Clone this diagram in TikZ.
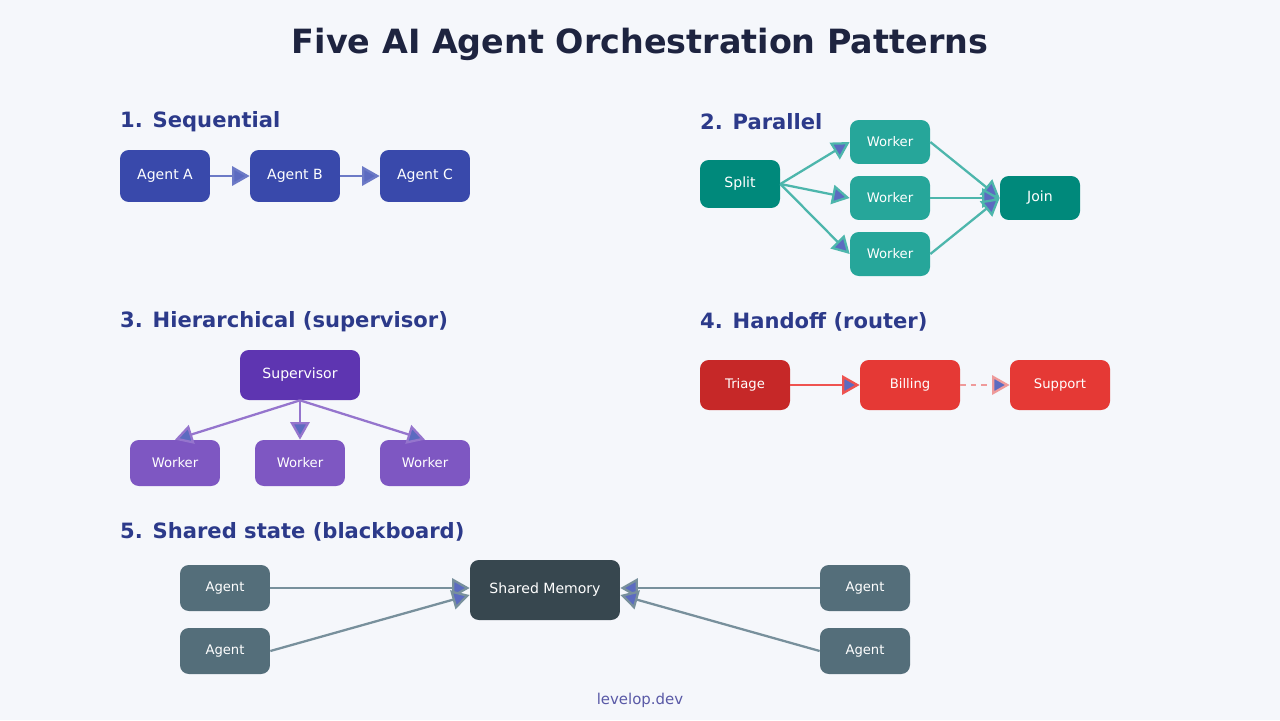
\documentclass[tikz,border=0pt]{standalone}
\usepackage{fontspec}
\setmainfont{DejaVu Sans}
\usetikzlibrary{arrows.meta,positioning}
\definecolor{bgc}{HTML}{F5F7FB}
\definecolor{titlec}{HTML}{1E2440}
\definecolor{headc}{HTML}{2C3A8A}
\definecolor{tipc}{HTML}{5C6BC0}
\tikzset{
    box/.style={rounded corners=5pt, text=white, inner sep=0pt, font=\fontsize{8}{9}\selectfont},
    head/.style={anchor=west, text=headc, font=\bfseries\fontsize{12}{14}\selectfont},
    link/.style={line width=1.3pt, -{Triangle[length=10pt,width=11pt,fill=tipc]}, shorten >=0pt},
}
\begin{document}
\begin{tikzpicture}[x=0.02cm, y=-0.02cm]
	\fill[bgc] (0,0) rectangle (1280,720);
	\useasboundingbox (0,0) rectangle (1280,720);
	\node[text=titlec, font=\bfseries\fontsize{19}{22}\selectfont] (title) at (640,44) {Five AI Agent Orchestration Patterns};
	\node[text=gray!70!blue, font=\fontsize{8.5}{10}\selectfont] (foot) at (640,700) {levelop.dev};
	% 1. sequential
	\node[head] (h1) at (114,122) {1. Sequential};
	\node[box, fill={rgb,255:red,57;green,73;blue,171}, minimum width=1.8cm, minimum height=1.04cm] (sa) at (165,176) {Agent A};
	\node[box, fill={rgb,255:red,57;green,73;blue,171}, minimum width=1.8cm, minimum height=1.04cm] (sb) at (295,176) {Agent B};
	\node[box, fill={rgb,255:red,57;green,73;blue,171}, minimum width=1.8cm, minimum height=1.04cm] (sc) at (425,176) {Agent C};
	\draw[link, draw=tipc!90] (sa) -- (sb);
	\draw[link, draw=tipc!90] (sb) -- (sc);
	% 2. parallel
	\node[head] (h2) at (694,122) {2. Parallel};
	\node[box, fill={rgb,255:red,0;green,137;blue,123}, minimum width=1.6cm, minimum height=0.96cm] (split) at (740,184) {Split};
	\foreach \n/\y in {1/142, 2/198, 3/254}
		\node[box, fill={rgb,255:red,38;green,166;blue,154}, minimum width=1.6cm, minimum height=0.88cm,
			font=\fontsize{7.5}{9}\selectfont] (w\n) at (890,\y) {Worker};
	\node[box, fill={rgb,255:red,0;green,137;blue,123}, minimum width=1.6cm, minimum height=0.88cm] (join) at (1040,198) {Join};
	\foreach \n in {1,2,3} {
		\draw[link, draw={rgb,255:red,77;green,182;blue,172}] (split.east) -- (w\n.west);
		\draw[link, draw={rgb,255:red,77;green,182;blue,172}] (w\n.east) -- (join.west);
	}
	% 3. hierarchical
	\node[head] (h3) at (114,322) {3. Hierarchical (supervisor)};
	\node[box, fill={rgb,255:red,94;green,53;blue,177}, minimum width=2.4cm, minimum height=1cm] (sup) at (300,375) {Supervisor};
	\foreach \n/\x in {1/175, 2/300, 3/425}
		\node[box, fill={rgb,255:red,126;green,87;blue,194}, minimum width=1.8cm, minimum height=0.92cm,
			font=\fontsize{7.5}{9}\selectfont] (hw\n) at (\x,463) {Worker};
	\foreach \n in {1,2,3}
		\draw[link, draw={rgb,255:red,149;green,117;blue,205}] (sup.south) -- (hw\n.north);
	% 4. handoff
	\node[head] (h4) at (694,322) {4. Handoff (router)};
	\node[box, fill={rgb,255:red,198;green,40;blue,40}, minimum width=1.8cm, minimum height=1cm,
		font=\fontsize{7.5}{9}\selectfont] (tri) at (745,385) {Triage};
	\node[box, fill={rgb,255:red,229;green,57;blue,53}, minimum width=2cm, minimum height=1cm,
		font=\fontsize{7.5}{9}\selectfont] (bill) at (910,385) {Billing};
	\node[box, fill={rgb,255:red,229;green,57;blue,53}, minimum width=2cm, minimum height=1cm,
		font=\fontsize{7.5}{9}\selectfont] (supp) at (1060,385) {Support};
	\draw[link, draw={rgb,255:red,239;green,83;blue,80}] (tri) -- (bill);
	\draw[link, draw={rgb,255:red,239;green,154;blue,154}, dash pattern=on 3pt off 3pt] (bill) -- (supp);
	% 5. shared state
	\node[head] (h5) at (114,532) {5. Shared state (blackboard)};
	\node[box, fill={rgb,255:red,55;green,71;blue,79}, minimum width=3cm, minimum height=1.2cm] (mem) at (545,590) {Shared Memory};
	\foreach \n/\x/\y in {1/225/588, 2/225/651, 3/865/588, 4/865/651}
		\node[box, fill={rgb,255:red,84;green,110;blue,122}, minimum width=1.8cm, minimum height=0.92cm,
			font=\fontsize{7.5}{9}\selectfont] (ag\n) at (\x,\y) {Agent};
	\draw[link, draw={rgb,255:red,120;green,144;blue,156}] (ag1.east) -- (ag1.east -| mem.west);
	\draw[link, draw={rgb,255:red,120;green,144;blue,156}] (ag2.east) -- ([yshift=-0.1cm]mem.west);
	\draw[link, draw={rgb,255:red,120;green,144;blue,156}] (ag3.west) -- (ag3.west -| mem.east);
	\draw[link, draw={rgb,255:red,120;green,144;blue,156}] (ag4.west) -- ([yshift=-0.1cm]mem.east);
\end{tikzpicture}
\end{document}
